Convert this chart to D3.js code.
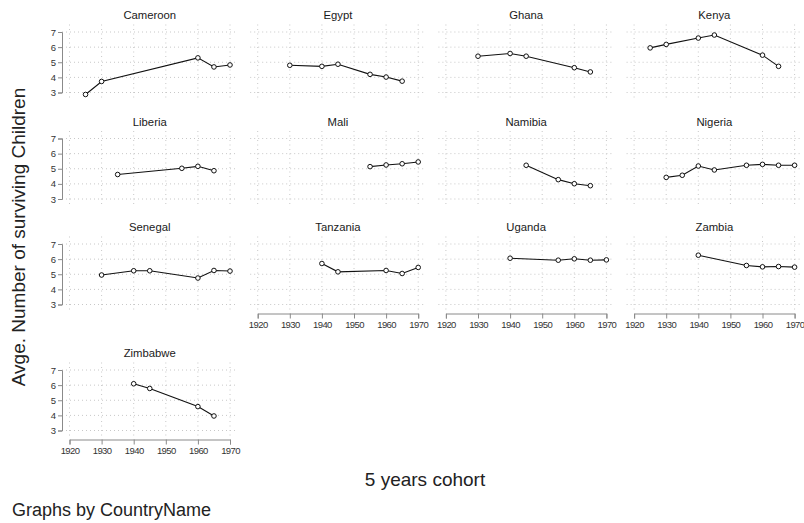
<!DOCTYPE html>
<html>
<head>
<meta charset="utf-8">
<script src="https://cdn.jsdelivr.net/npm/d3@7"></script>
<style>
  html, body { margin: 0; padding: 0; background: #fff; }
  svg { display: block; font-family: "Liberation Sans", Arial, sans-serif; }
</style>
</head>
<body>
<svg id="chart" width="804" height="523"></svg>
<script>
// Average number of surviving children by 5-year birth cohort, one panel per country
const countries = ["Cameroon", "Egypt", "Ghana", "Kenya", "Liberia", "Mali", "Namibia",
  "Nigeria", "Senegal", "Tanzania", "Uganda", "Zambia", "Zimbabwe"];

const cohorts = [
  [1925, 1930, 1960, 1965, 1970],
  [1930, 1940, 1945, 1955, 1960, 1965],
  [1930, 1940, 1945, 1960, 1965],
  [1925, 1930, 1940, 1945, 1960, 1965],
  [1935, 1955, 1960, 1965],
  [1955, 1960, 1965, 1970],
  [1945, 1955, 1960, 1965],
  [1930, 1935, 1940, 1945, 1955, 1960, 1965, 1970],
  [1930, 1940, 1945, 1960, 1965, 1970],
  [1940, 1945, 1960, 1965, 1970],
  [1940, 1955, 1960, 1965, 1970],
  [1940, 1955, 1960, 1965, 1970],
  [1940, 1945, 1960, 1965]
];

const avgChildren = [
  [2.87, 3.73, 5.29, 4.69, 4.82],
  [4.80, 4.73, 4.87, 4.20, 4.02, 3.75],
  [5.40, 5.58, 5.40, 4.64, 4.36],
  [5.95, 6.18, 6.60, 6.80, 5.47, 4.73],
  [4.62, 5.03, 5.16, 4.87],
  [5.14, 5.25, 5.33, 5.45],
  [5.23, 4.28, 4.01, 3.88],
  [4.43, 4.57, 5.18, 4.92, 5.23, 5.29, 5.23, 5.23],
  [4.95, 5.23, 5.23, 4.75, 5.25, 5.21],
  [5.71, 5.16, 5.25, 5.05, 5.45],
  [6.06, 5.93, 6.02, 5.93, 5.95],
  [6.26, 5.58, 5.49, 5.51, 5.47],
  [6.09, 5.78, 4.58, 3.96]
];

const xTicks = [1920, 1930, 1940, 1950, 1960, 1970];
const yTicks = [3, 4, 5, 6, 7];

const svg = d3.select("#chart");

// Panel grid geometry
const nCols = 4;
const colLeft = 69.5, colStep = 188.2, panelW = 160.5;
const rowTop = [32, 138.5, 244, 370];
const panelH = 60.5;
const pad = 7.5;          // plot-region margin around the data range
const gridColor = "#c8c8c8";
const axisColor = "#8a8a8a";
const textColor = "#333";

countries.forEach((name, i) => {
  const col = i % nCols, row = Math.floor(i / nCols);
  const x0 = colLeft + col * colStep;
  const y7 = rowTop[row];

  const x = d3.scaleLinear().domain([1920, 1970]).range([x0, x0 + panelW]);
  const y = d3.scaleLinear().domain([3, 7]).range([y7 + panelH, y7]);

  const g = svg.append("g");

  // dotted grid
  g.selectAll(".hgrid").data(yTicks).join("line")
    .attr("x1", x(1920) - pad).attr("x2", x(1970) + pad)
    .attr("y1", d => y(d)).attr("y2", d => y(d))
    .attr("stroke", gridColor).attr("stroke-width", 1)
    .attr("stroke-dasharray", "1,3");
  g.selectAll(".vgrid").data(xTicks).join("line")
    .attr("x1", d => x(d)).attr("x2", d => x(d))
    .attr("y1", y(7) - pad).attr("y2", y(3) + pad)
    .attr("stroke", gridColor).attr("stroke-width", 1)
    .attr("stroke-dasharray", "1,3.5");

  // panel title
  g.append("text")
    .attr("x", (x(1920) + x(1970)) / 2).attr("y", y7 - 13)
    .attr("text-anchor", "middle").attr("font-size", 11.3).attr("fill", "#1a1a1a")
    .text(name);

  // y axis on the first column
  if (col === 0) {
    const ya = g.append("g").attr("transform", `translate(${x(1920) - pad},0)`)
      .call(d3.axisLeft(y).tickValues(yTicks).tickSize(4).tickPadding(2).tickFormat(d3.format("d")));
    ya.select(".domain").attr("stroke", axisColor);
    ya.selectAll(".tick line").attr("stroke", axisColor);
    ya.selectAll(".tick text").attr("fill", textColor).attr("font-size", 9.5)
      .attr("font-family", "Liberation Sans, Arial, sans-serif");
  }

  // x axis where no panel sits below
  if (i + nCols >= countries.length) {
    const xa = g.append("g").attr("transform", `translate(0,${y(3) + 9})`)
      .call(d3.axisBottom(x).tickValues(xTicks).tickSize(5).tickPadding(3).tickFormat(d3.format("d")));
    xa.select(".domain").attr("stroke", axisColor);
    xa.selectAll(".tick line").attr("stroke", axisColor);
    xa.selectAll(".tick text").attr("fill", textColor).attr("font-size", 9.5)
      .attr("letter-spacing", "-0.6px")
      .attr("font-family", "Liberation Sans, Arial, sans-serif");
  }

  const pts = cohorts[i].map((yr, k) => [yr, avgChildren[i][k]]);

  g.append("path").datum(pts)
    .attr("fill", "none").attr("stroke", "#111").attr("stroke-width", 1.1)
    .attr("d", d3.line().x(d => x(d[0])).y(d => y(d[1])));

  g.selectAll("circle").data(pts).join("circle")
    .attr("cx", d => x(d[0])).attr("cy", d => y(d[1])).attr("r", 2.3)
    .attr("fill", "#fff").attr("stroke", "#111").attr("stroke-width", 1);
});

// overall axis titles and note
svg.append("text")
  .attr("transform", "translate(25,237) rotate(-90)")
  .attr("text-anchor", "middle").attr("font-size", 19).attr("fill", "#222")
  .text("Avge. Number of surviving Children");

svg.append("text")
  .attr("x", 425).attr("y", 486)
  .attr("text-anchor", "middle").attr("font-size", 19).attr("fill", "#222")
  .text("5 years cohort");

svg.append("text")
  .attr("x", 12).attr("y", 516)
  .attr("font-size", 18).attr("fill", "#222")
  .text("Graphs by CountryName");
</script>
</body>
</html>
